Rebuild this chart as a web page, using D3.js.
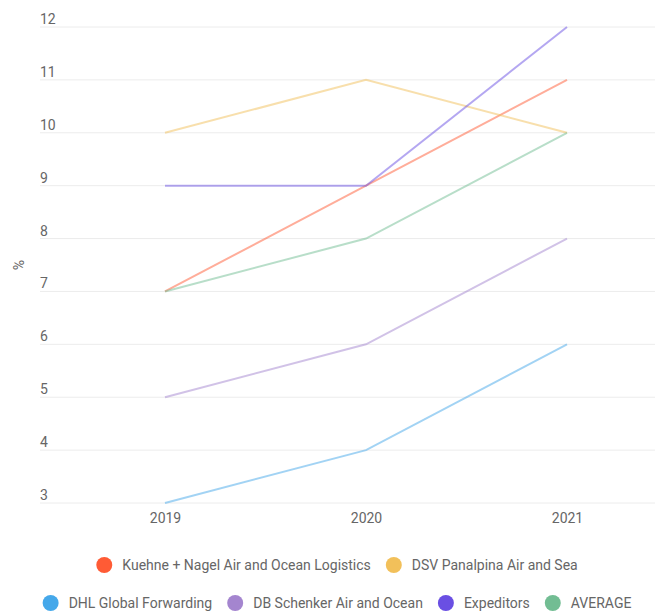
<!DOCTYPE html>
<html>
<head>
<meta charset="utf-8">
<script src="https://cdn.jsdelivr.net/npm/d3@7"></script>
<style>
  html, body { margin: 0; padding: 0; background: #fff; }
  svg { display: block; font-family: Roboto, "Noto Sans", sans-serif; }
</style>
</head>
<body>
<svg id="chart" width="655" height="614"></svg>
<script>
// Years on the x axis
const years = ["2019", "2020", "2021"];

// Series names and their values (%)
const seriesNames = [
  "Kuehne + Nagel Air and Ocean Logistics",
  "DSV Panalpina Air and Sea",
  "DHL Global Forwarding",
  "DB Schenker Air and Ocean",
  "Expeditors",
  "AVERAGE"
];
const kuehneNagel = [7, 9, 11];
const dsvPanalpina = [10, 11, 10];
const dhlGlobal = [3, 4, 6];
const dbSchenker = [5, 6, 8];
const expeditors = [9, 9, 12];
const average = [7, 8, 10];

const seriesColors = ["#ff5b35", "#f2c05a", "#45a8ea", "#a485cf", "#6a4fe3", "#72bd93"];

// y-axis ticks
const yTicks = [3, 4, 5, 6, 7, 8, 9, 10, 11, 12];

const seriesValues = [kuehneNagel, dsvPanalpina, dhlGlobal, dbSchenker, expeditors, average];
const series = seriesNames.map((name, i) => ({
  name,
  color: seriesColors[i],
  values: seriesValues[i].map((v, j) => ({ year: years[j], value: v }))
}));

const svg = d3.select("#chart");
const fontSize = 14;

const x = d3.scalePoint().domain(years).range([165, 567]);
const y = d3.scaleLinear().domain([3, 12]).range([503, 27]);

// Horizontal gridlines with labels sitting above them at the left
const grid = svg.append("g");
grid.selectAll("line")
  .data(yTicks)
  .join("line")
  .attr("x1", 40).attr("x2", 655)
  .attr("y1", d => y(d)).attr("y2", d => y(d))
  .attr("stroke", "#ececec").attr("stroke-width", 1);
grid.selectAll("text")
  .data(yTicks)
  .join("text")
  .attr("x", 40).attr("y", d => y(d) - 3)
  .attr("font-size", fontSize).attr("fill", "#666")
  .text(d => d);

// y-axis title
svg.append("text")
  .attr("transform", `translate(24, ${y(7.5)}) rotate(-90)`)
  .attr("text-anchor", "middle")
  .attr("font-size", fontSize).attr("fill", "#666")
  .text("%");

// x-axis labels
const xAxis = d3.axisBottom(x).tickSize(0).tickPadding(0);
const xg = svg.append("g").attr("transform", `translate(0, ${y(3) + 10})`).call(xAxis);
xg.select(".domain").remove();
xg.selectAll("text").attr("font-size", fontSize).attr("fill", "#666")
  .attr("font-family", "Roboto, 'Noto Sans', sans-serif");

// Lines
const line = d3.line().x(d => x(d.year)).y(d => y(d.value));
svg.append("g").selectAll("path")
  .data(series)
  .join("path")
  .attr("d", d => line(d.values))
  .attr("fill", "none")
  .attr("stroke", d => d.color)
  .attr("stroke-opacity", 0.5)
  .attr("stroke-width", 2);

// Legend in two centred rows
const legendRows = [[0, 1], [2, 3, 4, 5]];
const legendY = [565, 603];
const legendCenter = 337;
legendRows.forEach((row, r) => {
  const g = svg.append("g");
  let cx = 0;
  row.forEach((idx, k) => {
    const item = g.append("g").attr("transform", `translate(${cx},0)`);
    item.append("circle").attr("cx", 8).attr("cy", 0).attr("r", 8).attr("fill", series[idx].color);
    const t = item.append("text")
      .attr("x", 26).attr("y", 5)
      .attr("font-size", fontSize).attr("fill", "#666")
      .text(series[idx].name);
    cx += 26 + t.node().getComputedTextLength() + 15;
  });
  const total = cx - 15;
  g.attr("transform", `translate(${legendCenter - total / 2}, ${legendY[r]})`);
});
</script>
</body>
</html>
